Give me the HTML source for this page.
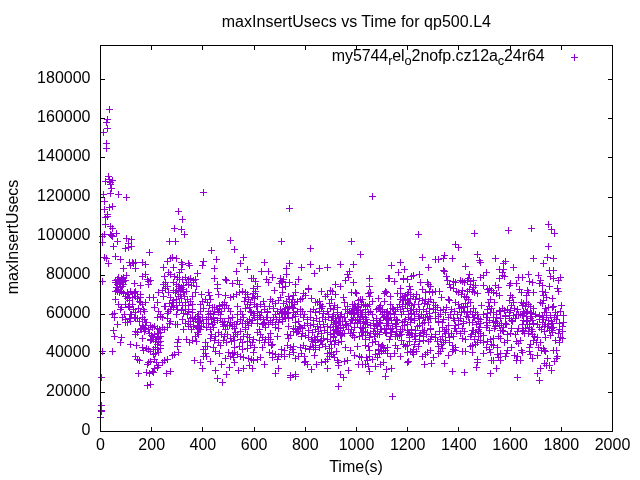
<!DOCTYPE html>
<html><head><meta charset="utf-8"><title>maxInsertUsecs vs Time for qp500.L4</title>
<style>
html,body{margin:0;padding:0;background:#fff;}
body{width:640px;height:480px;overflow:hidden;}
svg{display:block;will-change:transform;}
text{font-family:"Liberation Sans",sans-serif;font-size:16px;fill:#000;}
</style></head><body>
<svg width="640" height="480" viewBox="0 0 640 480">
<rect width="640" height="480" fill="#fff"/>
<path d="M100.50 431.5v-4.5M100.50 45.5v4.5M151.50 431.5v-4.5M151.50 45.5v4.5M202.50 431.5v-4.5M202.50 45.5v4.5M254.50 431.5v-4.5M254.50 45.5v4.5M305.50 431.5v-4.5M305.50 45.5v4.5M356.50 431.5v-4.5M356.50 45.5v4.5M407.50 431.5v-4.5M407.50 45.5v4.5M458.50 431.5v-4.5M458.50 45.5v4.5M510.50 431.5v-4.5M510.50 45.5v4.5M561.50 431.5v-4.5M561.50 45.5v4.5M612.50 431.5v-4.5M612.50 45.5v4.5M100.5 431.50h4.5M612.5 431.50h-4.5M100.5 392.50h4.5M612.5 392.50h-4.5M100.5 353.50h4.5M612.5 353.50h-4.5M100.5 314.50h4.5M612.5 314.50h-4.5M100.5 275.50h4.5M612.5 275.50h-4.5M100.5 236.50h4.5M612.5 236.50h-4.5M100.5 197.50h4.5M612.5 197.50h-4.5M100.5 157.50h4.5M612.5 157.50h-4.5M100.5 118.50h4.5M612.5 118.50h-4.5M100.5 79.50h4.5M612.5 79.50h-4.5" stroke="#000" stroke-width="1" fill="none"/>
<text x="100.5" y="450" text-anchor="middle">0</text><text x="151.7" y="450" text-anchor="middle">200</text><text x="202.9" y="450" text-anchor="middle">400</text><text x="254.1" y="450" text-anchor="middle">600</text><text x="305.3" y="450" text-anchor="middle">800</text><text x="356.5" y="450" text-anchor="middle">1000</text><text x="407.7" y="450" text-anchor="middle">1200</text><text x="458.9" y="450" text-anchor="middle">1400</text><text x="510.1" y="450" text-anchor="middle">1600</text><text x="561.3" y="450" text-anchor="middle">1800</text><text x="612.5" y="450" text-anchor="middle">2000</text>
<text x="90.5" y="435" text-anchor="end">0</text><text x="90.5" y="396" text-anchor="end">20000</text><text x="90.5" y="357" text-anchor="end">40000</text><text x="90.5" y="318" text-anchor="end">60000</text><text x="90.5" y="279" text-anchor="end">80000</text><text x="90.5" y="240" text-anchor="end">100000</text><text x="90.5" y="201" text-anchor="end">120000</text><text x="90.5" y="161" text-anchor="end">140000</text><text x="90.5" y="122" text-anchor="end">160000</text><text x="90.5" y="83" text-anchor="end">180000</text>
<text x="221.7" y="26.5" textLength="269.3" lengthAdjust="spacing">maxInsertUsecs vs Time for qp500.L4</text>
<text x="356" y="472" text-anchor="middle">Time(s)</text>
<text transform="translate(18,237) rotate(-90)" text-anchor="middle">maxInsertUsecs</text>
<text x="331.8" y="60.5" textLength="212.8" lengthAdjust="spacing">my5744<tspan dy="4.8" font-size="12.8">r</tspan><tspan dy="-4.8">el</tspan><tspan dy="4.8" font-size="12.8">o</tspan><tspan dy="-4.8">2nofp.cz12a</tspan><tspan dy="4.8" font-size="12.8">c</tspan><tspan dy="-4.8">24r64</tspan></text>
<path d="M571.0 57.5h7M574.5 54.0v7" stroke="#9400d3" stroke-width="1" fill="none"/>
<path d="M97.0 417.5h7M100.5 414.0v7M98.0 377.5h7M101.5 374.0v7M98.0 405.5h7M101.5 402.0v7M98.0 410.5h7M101.5 407.0v7M98.0 411.5h7M101.5 408.0v7M99.0 236.5h7M102.5 233.0v7M99.0 242.5h7M102.5 239.0v7M99.0 281.5h7M102.5 278.0v7M99.0 351.5h7M102.5 348.0v7M100.0 132.5h7M103.5 129.0v7M100.0 194.5h7M103.5 191.0v7M101.0 201.5h7M104.5 198.0v7M101.0 209.5h7M104.5 206.0v7M101.0 234.5h7M104.5 231.0v7M101.0 257.5h7M104.5 254.0v7M102.0 181.5h7M105.5 178.0v7M102.0 217.5h7M105.5 214.0v7M102.0 224.5h7M105.5 221.0v7M103.0 122.5h7M106.5 119.0v7M103.0 143.5h7M106.5 140.0v7M103.0 148.5h7M106.5 145.0v7M103.0 258.5h7M106.5 255.0v7M104.0 119.5h7M107.5 116.0v7M104.0 128.5h7M107.5 125.0v7M104.0 214.5h7M107.5 211.0v7M104.0 216.5h7M107.5 213.0v7M105.0 176.5h7M108.5 173.0v7M105.0 263.5h7M108.5 260.0v7M106.0 109.5h7M109.5 106.0v7M106.0 179.5h7M109.5 176.0v7M106.0 181.5h7M109.5 178.0v7M106.0 207.5h7M109.5 204.0v7M107.0 182.5h7M110.5 179.0v7M107.0 184.5h7M110.5 181.0v7M107.0 193.5h7M110.5 190.0v7M107.0 226.5h7M110.5 223.0v7M107.0 234.5h7M110.5 231.0v7M108.0 188.5h7M111.5 185.0v7M108.0 235.5h7M111.5 232.0v7M109.0 180.5h7M112.5 177.0v7M109.0 206.5h7M112.5 203.0v7M109.0 228.5h7M112.5 225.0v7M109.0 236.5h7M112.5 233.0v7M109.0 314.5h7M112.5 311.0v7M109.0 351.5h7M112.5 348.0v7M110.0 246.5h7M113.5 243.0v7M110.0 330.5h7M113.5 327.0v7M111.0 313.5h7M114.5 310.0v7M111.0 317.5h7M114.5 314.0v7M111.0 336.5h7M114.5 333.0v7M112.0 256.5h7M115.5 253.0v7M112.0 280.5h7M115.5 277.0v7M112.0 282.5h7M115.5 279.0v7M112.0 291.5h7M115.5 288.0v7M112.0 299.5h7M115.5 296.0v7M113.0 233.5h7M116.5 230.0v7M113.0 282.5h7M116.5 279.0v7M113.0 287.5h7M116.5 284.0v7M114.0 241.5h7M117.5 238.0v7M114.0 279.5h7M117.5 276.0v7M114.0 284.5h7M117.5 281.0v7M114.0 290.5h7M117.5 287.0v7M114.0 291.5h7M117.5 288.0v7M114.0 324.5h7M117.5 321.0v7M115.0 194.5h7M118.5 191.0v7M115.0 277.5h7M118.5 274.0v7M115.0 289.5h7M118.5 286.0v7M115.0 304.5h7M118.5 301.0v7M116.0 283.5h7M119.5 280.0v7M116.0 292.5h7M119.5 289.0v7M117.0 259.5h7M120.5 256.0v7M117.0 280.5h7M120.5 277.0v7M117.0 281.5h7M120.5 278.0v7M117.0 287.5h7M120.5 284.0v7M117.0 309.5h7M120.5 306.0v7M117.0 342.5h7M120.5 339.0v7M118.0 278.5h7M121.5 275.0v7M118.0 291.5h7M121.5 288.0v7M118.0 307.5h7M121.5 304.0v7M118.0 337.5h7M121.5 334.0v7M119.0 279.5h7M122.5 276.0v7M119.0 282.5h7M122.5 279.0v7M119.0 286.5h7M122.5 283.0v7M119.0 317.5h7M122.5 314.0v7M120.0 268.5h7M123.5 265.0v7M120.0 277.5h7M123.5 274.0v7M120.0 281.5h7M123.5 278.0v7M120.0 284.5h7M123.5 281.0v7M120.0 293.5h7M123.5 290.0v7M121.0 314.5h7M124.5 311.0v7M122.0 248.5h7M125.5 245.0v7M122.0 280.5h7M125.5 277.0v7M122.0 296.5h7M125.5 293.0v7M122.0 304.5h7M125.5 301.0v7M122.0 319.5h7M125.5 316.0v7M122.0 322.5h7M125.5 319.0v7M123.0 197.5h7M126.5 194.0v7M123.0 238.5h7M126.5 235.0v7M123.0 275.5h7M126.5 272.0v7M124.0 292.5h7M127.5 289.0v7M124.0 298.5h7M127.5 295.0v7M124.0 322.5h7M127.5 319.0v7M125.0 243.5h7M128.5 240.0v7M125.0 247.5h7M128.5 244.0v7M125.0 294.5h7M128.5 291.0v7M125.0 306.5h7M128.5 303.0v7M126.0 262.5h7M129.5 259.0v7M126.0 297.5h7M129.5 294.0v7M126.0 300.5h7M129.5 297.0v7M126.0 307.5h7M129.5 304.0v7M126.0 318.5h7M129.5 315.0v7M127.0 265.5h7M130.5 262.0v7M127.0 291.5h7M130.5 288.0v7M127.0 314.5h7M130.5 311.0v7M127.0 321.5h7M130.5 318.0v7M127.0 344.5h7M130.5 341.0v7M128.0 239.5h7M131.5 236.0v7M128.0 246.5h7M131.5 243.0v7M128.0 314.5h7M131.5 311.0v7M129.0 262.5h7M132.5 259.0v7M129.0 297.5h7M132.5 294.0v7M129.0 304.5h7M132.5 301.0v7M130.0 263.5h7M133.5 260.0v7M130.0 309.5h7M133.5 306.0v7M131.0 283.5h7M134.5 280.0v7M131.0 292.5h7M134.5 289.0v7M131.0 293.5h7M134.5 290.0v7M131.0 317.5h7M134.5 314.0v7M132.0 262.5h7M135.5 259.0v7M132.0 268.5h7M135.5 265.0v7M132.0 291.5h7M135.5 288.0v7M132.0 296.5h7M135.5 293.0v7M132.0 312.5h7M135.5 309.0v7M132.0 318.5h7M135.5 315.0v7M132.0 331.5h7M135.5 328.0v7M132.0 334.5h7M135.5 331.0v7M132.0 356.5h7M135.5 353.0v7M133.0 345.5h7M136.5 342.0v7M134.0 298.5h7M137.5 295.0v7M134.0 318.5h7M137.5 315.0v7M134.0 332.5h7M137.5 329.0v7M134.0 359.5h7M137.5 356.0v7M135.0 308.5h7M138.5 305.0v7M135.0 373.5h7M138.5 370.0v7M136.0 301.5h7M139.5 298.0v7M136.0 321.5h7M139.5 318.0v7M136.0 360.5h7M139.5 357.0v7M137.0 285.5h7M140.5 282.0v7M137.0 294.5h7M140.5 291.0v7M137.0 297.5h7M140.5 294.0v7M137.0 302.5h7M140.5 299.0v7M137.0 311.5h7M140.5 308.0v7M137.0 329.5h7M140.5 326.0v7M138.0 328.5h7M141.5 325.0v7M138.0 329.5h7M141.5 326.0v7M139.0 262.5h7M142.5 259.0v7M139.0 276.5h7M142.5 273.0v7M139.0 304.5h7M142.5 301.0v7M139.0 317.5h7M142.5 314.0v7M139.0 325.5h7M142.5 322.0v7M139.0 338.5h7M142.5 335.0v7M139.0 347.5h7M142.5 344.0v7M140.0 309.5h7M143.5 306.0v7M140.0 327.5h7M143.5 324.0v7M140.0 350.5h7M143.5 347.0v7M141.0 311.5h7M144.5 308.0v7M141.0 319.5h7M144.5 316.0v7M141.0 328.5h7M144.5 325.0v7M141.0 331.5h7M144.5 328.0v7M142.0 264.5h7M145.5 261.0v7M142.0 274.5h7M145.5 271.0v7M142.0 302.5h7M145.5 299.0v7M142.0 322.5h7M145.5 319.0v7M142.0 329.5h7M145.5 326.0v7M143.0 322.5h7M146.5 319.0v7M143.0 348.5h7M146.5 345.0v7M143.0 372.5h7M146.5 369.0v7M144.0 279.5h7M147.5 276.0v7M144.0 364.5h7M147.5 361.0v7M144.0 385.5h7M147.5 382.0v7M145.0 281.5h7M148.5 278.0v7M145.0 284.5h7M148.5 281.0v7M145.0 329.5h7M148.5 326.0v7M145.0 349.5h7M148.5 346.0v7M145.0 362.5h7M148.5 359.0v7M146.0 252.5h7M149.5 249.0v7M146.0 297.5h7M149.5 294.0v7M146.0 333.5h7M149.5 330.0v7M146.0 373.5h7M149.5 370.0v7M147.0 280.5h7M150.5 277.0v7M147.0 325.5h7M150.5 322.0v7M147.0 339.5h7M150.5 336.0v7M147.0 340.5h7M150.5 337.0v7M147.0 351.5h7M150.5 348.0v7M147.0 361.5h7M150.5 358.0v7M147.0 384.5h7M150.5 381.0v7M148.0 335.5h7M151.5 332.0v7M148.0 339.5h7M151.5 336.0v7M149.0 327.5h7M152.5 324.0v7M149.0 336.5h7M152.5 333.0v7M149.0 371.5h7M152.5 368.0v7M150.0 297.5h7M153.5 294.0v7M150.0 339.5h7M153.5 336.0v7M150.0 349.5h7M153.5 346.0v7M150.0 354.5h7M153.5 351.0v7M150.0 372.5h7M153.5 369.0v7M151.0 307.5h7M154.5 304.0v7M151.0 326.5h7M154.5 323.0v7M151.0 334.5h7M154.5 331.0v7M151.0 359.5h7M154.5 356.0v7M151.0 368.5h7M154.5 365.0v7M152.0 341.5h7M155.5 338.0v7M152.0 347.5h7M155.5 344.0v7M152.0 353.5h7M155.5 350.0v7M153.0 339.5h7M156.5 336.0v7M153.0 362.5h7M156.5 359.0v7M154.0 302.5h7M157.5 299.0v7M154.0 317.5h7M157.5 314.0v7M154.0 328.5h7M157.5 325.0v7M154.0 333.5h7M157.5 330.0v7M154.0 344.5h7M157.5 341.0v7M154.0 349.5h7M157.5 346.0v7M154.0 367.5h7M157.5 364.0v7M155.0 292.5h7M158.5 289.0v7M155.0 311.5h7M158.5 308.0v7M155.0 333.5h7M158.5 330.0v7M155.0 337.5h7M158.5 334.0v7M155.0 338.5h7M158.5 335.0v7M155.0 342.5h7M158.5 339.0v7M155.0 352.5h7M158.5 349.0v7M155.0 365.5h7M158.5 362.0v7M156.0 329.5h7M159.5 326.0v7M157.0 314.5h7M160.5 311.0v7M157.0 316.5h7M160.5 313.0v7M157.0 332.5h7M160.5 329.0v7M157.0 336.5h7M160.5 333.0v7M157.0 341.5h7M160.5 338.0v7M157.0 345.5h7M160.5 342.0v7M157.0 348.5h7M160.5 345.0v7M159.0 290.5h7M162.5 287.0v7M159.0 317.5h7M162.5 314.0v7M159.0 327.5h7M162.5 324.0v7M159.0 362.5h7M162.5 359.0v7M160.0 267.5h7M163.5 264.0v7M160.0 284.5h7M163.5 281.0v7M160.0 296.5h7M163.5 293.0v7M161.0 276.5h7M164.5 273.0v7M161.0 306.5h7M164.5 303.0v7M161.0 329.5h7M164.5 326.0v7M161.0 360.5h7M164.5 357.0v7M162.0 282.5h7M165.5 279.0v7M162.0 288.5h7M165.5 285.0v7M162.0 306.5h7M165.5 303.0v7M163.0 373.5h7M166.5 370.0v7M164.0 261.5h7M167.5 258.0v7M164.0 286.5h7M167.5 283.0v7M164.0 313.5h7M167.5 310.0v7M164.0 318.5h7M167.5 315.0v7M164.0 327.5h7M167.5 324.0v7M164.0 359.5h7M167.5 356.0v7M165.0 272.5h7M168.5 269.0v7M165.0 292.5h7M168.5 289.0v7M165.0 311.5h7M168.5 308.0v7M166.0 241.5h7M169.5 238.0v7M166.0 303.5h7M169.5 300.0v7M166.0 323.5h7M169.5 320.0v7M167.0 258.5h7M170.5 255.0v7M167.0 274.5h7M170.5 271.0v7M167.0 297.5h7M170.5 294.0v7M167.0 309.5h7M170.5 306.0v7M167.0 321.5h7M170.5 318.0v7M167.0 371.5h7M170.5 368.0v7M168.0 306.5h7M171.5 303.0v7M169.0 257.5h7M172.5 254.0v7M169.0 302.5h7M172.5 299.0v7M169.0 355.5h7M172.5 352.0v7M170.0 267.5h7M173.5 264.0v7M170.0 282.5h7M173.5 279.0v7M170.0 290.5h7M173.5 287.0v7M170.0 300.5h7M173.5 297.0v7M170.0 307.5h7M173.5 304.0v7M171.0 228.5h7M174.5 225.0v7M171.0 276.5h7M174.5 273.0v7M171.0 354.5h7M174.5 351.0v7M172.0 241.5h7M175.5 238.0v7M172.0 292.5h7M175.5 289.0v7M172.0 324.5h7M175.5 321.0v7M173.0 258.5h7M176.5 255.0v7M173.0 284.5h7M176.5 281.0v7M173.0 290.5h7M176.5 287.0v7M173.0 299.5h7M176.5 296.0v7M173.0 305.5h7M176.5 302.0v7M173.0 314.5h7M176.5 311.0v7M174.0 277.5h7M177.5 274.0v7M174.0 309.5h7M177.5 306.0v7M174.0 324.5h7M177.5 321.0v7M174.0 342.5h7M177.5 339.0v7M174.0 346.5h7M177.5 343.0v7M175.0 211.5h7M178.5 208.0v7M175.0 286.5h7M178.5 283.0v7M175.0 291.5h7M178.5 288.0v7M175.0 296.5h7M178.5 293.0v7M175.0 339.5h7M178.5 336.0v7M175.0 352.5h7M178.5 349.0v7M176.0 272.5h7M179.5 269.0v7M176.0 279.5h7M179.5 276.0v7M176.0 288.5h7M179.5 285.0v7M176.0 302.5h7M179.5 299.0v7M177.0 291.5h7M180.5 288.0v7M177.0 294.5h7M180.5 291.0v7M178.0 229.5h7M181.5 226.0v7M178.0 262.5h7M181.5 259.0v7M178.0 269.5h7M181.5 266.0v7M178.0 287.5h7M181.5 284.0v7M178.0 298.5h7M181.5 295.0v7M178.0 310.5h7M181.5 307.0v7M179.0 219.5h7M182.5 216.0v7M179.0 264.5h7M182.5 261.0v7M179.0 279.5h7M182.5 276.0v7M179.0 289.5h7M182.5 286.0v7M179.0 305.5h7M182.5 302.0v7M179.0 319.5h7M182.5 316.0v7M180.0 285.5h7M183.5 282.0v7M180.0 292.5h7M183.5 289.0v7M180.0 313.5h7M183.5 310.0v7M180.0 329.5h7M183.5 326.0v7M181.0 234.5h7M184.5 231.0v7M181.0 296.5h7M184.5 293.0v7M182.0 277.5h7M185.5 274.0v7M182.0 302.5h7M185.5 299.0v7M182.0 309.5h7M185.5 306.0v7M182.0 323.5h7M185.5 320.0v7M183.0 282.5h7M186.5 279.0v7M183.0 291.5h7M186.5 288.0v7M183.0 339.5h7M186.5 336.0v7M184.0 299.5h7M187.5 296.0v7M184.0 314.5h7M187.5 311.0v7M185.0 263.5h7M188.5 260.0v7M185.0 279.5h7M188.5 276.0v7M185.0 284.5h7M188.5 281.0v7M185.0 305.5h7M188.5 302.0v7M185.0 311.5h7M188.5 308.0v7M185.0 321.5h7M188.5 318.0v7M185.0 326.5h7M188.5 323.0v7M186.0 265.5h7M189.5 262.0v7M186.0 342.5h7M189.5 339.0v7M187.0 278.5h7M190.5 275.0v7M187.0 301.5h7M190.5 298.0v7M187.0 318.5h7M190.5 315.0v7M187.0 324.5h7M190.5 321.0v7M188.0 285.5h7M191.5 282.0v7M188.0 329.5h7M191.5 326.0v7M189.0 296.5h7M192.5 293.0v7M189.0 304.5h7M192.5 301.0v7M189.0 309.5h7M192.5 306.0v7M189.0 312.5h7M192.5 309.0v7M189.0 317.5h7M192.5 314.0v7M189.0 340.5h7M192.5 337.0v7M190.0 280.5h7M193.5 277.0v7M190.0 282.5h7M193.5 279.0v7M190.0 321.5h7M193.5 318.0v7M190.0 326.5h7M193.5 323.0v7M191.0 360.5h7M194.5 357.0v7M192.0 279.5h7M195.5 276.0v7M192.0 292.5h7M195.5 289.0v7M192.0 318.5h7M195.5 315.0v7M192.0 319.5h7M195.5 316.0v7M192.0 336.5h7M195.5 333.0v7M193.0 286.5h7M196.5 283.0v7M193.0 341.5h7M196.5 338.0v7M194.0 273.5h7M197.5 270.0v7M194.0 316.5h7M197.5 313.0v7M194.0 325.5h7M197.5 322.0v7M194.0 327.5h7M197.5 324.0v7M194.0 332.5h7M197.5 329.0v7M195.0 314.5h7M198.5 311.0v7M195.0 322.5h7M198.5 319.0v7M195.0 328.5h7M198.5 325.0v7M195.0 334.5h7M198.5 331.0v7M196.0 321.5h7M199.5 318.0v7M196.0 329.5h7M199.5 326.0v7M197.0 304.5h7M200.5 301.0v7M197.0 311.5h7M200.5 308.0v7M197.0 320.5h7M200.5 317.0v7M197.0 329.5h7M200.5 326.0v7M197.0 362.5h7M200.5 359.0v7M198.0 294.5h7M201.5 291.0v7M198.0 326.5h7M201.5 323.0v7M199.0 265.5h7M202.5 262.0v7M199.0 301.5h7M202.5 298.0v7M199.0 317.5h7M202.5 314.0v7M199.0 368.5h7M202.5 365.0v7M200.0 192.5h7M203.5 189.0v7M200.0 261.5h7M203.5 258.0v7M200.0 308.5h7M203.5 305.0v7M200.0 323.5h7M203.5 320.0v7M200.0 349.5h7M203.5 346.0v7M200.0 356.5h7M203.5 353.0v7M202.0 299.5h7M205.5 296.0v7M202.0 342.5h7M205.5 339.0v7M202.0 346.5h7M205.5 343.0v7M202.0 353.5h7M205.5 350.0v7M203.0 319.5h7M206.5 316.0v7M203.0 327.5h7M206.5 324.0v7M203.0 356.5h7M206.5 353.0v7M204.0 302.5h7M207.5 299.0v7M204.0 346.5h7M207.5 343.0v7M205.0 292.5h7M208.5 289.0v7M205.0 311.5h7M208.5 308.0v7M205.0 314.5h7M208.5 311.0v7M205.0 317.5h7M208.5 314.0v7M205.0 323.5h7M208.5 320.0v7M206.0 295.5h7M209.5 292.0v7M206.0 305.5h7M209.5 302.0v7M207.0 299.5h7M210.5 296.0v7M207.0 313.5h7M210.5 310.0v7M207.0 329.5h7M210.5 326.0v7M207.0 338.5h7M210.5 335.0v7M207.0 361.5h7M210.5 358.0v7M208.0 250.5h7M211.5 247.0v7M208.0 319.5h7M211.5 316.0v7M208.0 334.5h7M211.5 331.0v7M209.0 307.5h7M212.5 304.0v7M209.0 324.5h7M212.5 321.0v7M210.0 314.5h7M213.5 311.0v7M210.0 317.5h7M213.5 314.0v7M210.0 318.5h7M213.5 315.0v7M210.0 327.5h7M213.5 324.0v7M210.0 347.5h7M213.5 344.0v7M211.0 268.5h7M214.5 265.0v7M211.0 278.5h7M214.5 275.0v7M211.0 307.5h7M214.5 304.0v7M211.0 311.5h7M214.5 308.0v7M211.0 322.5h7M214.5 319.0v7M211.0 340.5h7M214.5 337.0v7M212.0 336.5h7M215.5 333.0v7M212.0 351.5h7M215.5 348.0v7M212.0 370.5h7M215.5 367.0v7M213.0 259.5h7M216.5 256.0v7M214.0 284.5h7M217.5 281.0v7M214.0 288.5h7M217.5 285.0v7M214.0 309.5h7M217.5 306.0v7M214.0 320.5h7M217.5 317.0v7M214.0 378.5h7M217.5 375.0v7M215.0 294.5h7M218.5 291.0v7M215.0 312.5h7M218.5 309.0v7M215.0 332.5h7M218.5 329.0v7M215.0 342.5h7M218.5 339.0v7M216.0 305.5h7M219.5 302.0v7M216.0 306.5h7M219.5 303.0v7M216.0 308.5h7M219.5 305.0v7M216.0 353.5h7M219.5 350.0v7M217.0 314.5h7M220.5 311.0v7M217.0 318.5h7M220.5 315.0v7M217.0 345.5h7M220.5 342.0v7M218.0 311.5h7M221.5 308.0v7M218.0 334.5h7M221.5 331.0v7M218.0 364.5h7M221.5 361.0v7M219.0 304.5h7M222.5 301.0v7M219.0 322.5h7M222.5 319.0v7M219.0 382.5h7M222.5 379.0v7M220.0 324.5h7M223.5 321.0v7M220.0 326.5h7M223.5 323.0v7M220.0 340.5h7M223.5 337.0v7M221.0 302.5h7M224.5 299.0v7M221.0 308.5h7M224.5 305.0v7M221.0 321.5h7M224.5 318.0v7M221.0 336.5h7M224.5 333.0v7M222.0 279.5h7M225.5 276.0v7M222.0 295.5h7M225.5 292.0v7M222.0 329.5h7M225.5 326.0v7M222.0 358.5h7M225.5 355.0v7M223.0 280.5h7M226.5 277.0v7M223.0 305.5h7M226.5 302.0v7M223.0 342.5h7M226.5 339.0v7M223.0 374.5h7M226.5 371.0v7M224.0 325.5h7M227.5 322.0v7M224.0 334.5h7M227.5 331.0v7M225.0 308.5h7M228.5 305.0v7M225.0 318.5h7M228.5 315.0v7M225.0 352.5h7M228.5 349.0v7M226.0 325.5h7M229.5 322.0v7M226.0 367.5h7M229.5 364.0v7M227.0 240.5h7M230.5 237.0v7M227.0 297.5h7M230.5 294.0v7M227.0 311.5h7M230.5 308.0v7M227.0 322.5h7M230.5 319.0v7M227.0 338.5h7M230.5 335.0v7M227.0 356.5h7M230.5 353.0v7M228.0 341.5h7M231.5 338.0v7M229.0 283.5h7M232.5 280.0v7M229.0 317.5h7M232.5 314.0v7M229.0 326.5h7M232.5 323.0v7M229.0 353.5h7M232.5 350.0v7M230.0 296.5h7M233.5 293.0v7M230.0 336.5h7M233.5 333.0v7M230.0 357.5h7M233.5 354.0v7M231.0 249.5h7M234.5 246.0v7M231.0 324.5h7M234.5 321.0v7M231.0 328.5h7M234.5 325.0v7M231.0 340.5h7M234.5 337.0v7M231.0 347.5h7M234.5 344.0v7M231.0 352.5h7M234.5 349.0v7M231.0 362.5h7M234.5 359.0v7M232.0 332.5h7M235.5 329.0v7M233.0 271.5h7M236.5 268.0v7M233.0 294.5h7M236.5 291.0v7M233.0 324.5h7M236.5 321.0v7M234.0 280.5h7M237.5 277.0v7M234.0 306.5h7M237.5 303.0v7M234.0 314.5h7M237.5 311.0v7M234.0 321.5h7M237.5 318.0v7M234.0 334.5h7M237.5 331.0v7M234.0 354.5h7M237.5 351.0v7M235.0 370.5h7M238.5 367.0v7M236.0 284.5h7M239.5 281.0v7M236.0 292.5h7M239.5 289.0v7M236.0 346.5h7M239.5 343.0v7M237.0 263.5h7M240.5 260.0v7M237.0 311.5h7M240.5 308.0v7M237.0 319.5h7M240.5 316.0v7M237.0 331.5h7M240.5 328.0v7M237.0 339.5h7M240.5 336.0v7M237.0 356.5h7M240.5 353.0v7M239.0 291.5h7M242.5 288.0v7M239.0 314.5h7M242.5 311.0v7M239.0 323.5h7M242.5 320.0v7M239.0 342.5h7M242.5 339.0v7M239.0 349.5h7M242.5 346.0v7M240.0 257.5h7M243.5 254.0v7M240.0 317.5h7M243.5 314.0v7M240.0 336.5h7M243.5 333.0v7M240.0 357.5h7M243.5 354.0v7M240.0 368.5h7M243.5 365.0v7M241.0 301.5h7M244.5 298.0v7M242.0 292.5h7M245.5 289.0v7M242.0 297.5h7M245.5 294.0v7M242.0 308.5h7M245.5 305.0v7M242.0 323.5h7M245.5 320.0v7M242.0 327.5h7M245.5 324.0v7M242.0 329.5h7M245.5 326.0v7M244.0 269.5h7M247.5 266.0v7M244.0 294.5h7M247.5 291.0v7M244.0 304.5h7M247.5 301.0v7M244.0 321.5h7M247.5 318.0v7M244.0 334.5h7M247.5 331.0v7M244.0 341.5h7M247.5 338.0v7M244.0 348.5h7M247.5 345.0v7M245.0 299.5h7M248.5 296.0v7M245.0 325.5h7M248.5 322.0v7M245.0 358.5h7M248.5 355.0v7M246.0 307.5h7M249.5 304.0v7M246.0 319.5h7M249.5 316.0v7M246.0 337.5h7M249.5 334.0v7M246.0 365.5h7M249.5 362.0v7M247.0 302.5h7M250.5 299.0v7M247.0 311.5h7M250.5 308.0v7M247.0 345.5h7M250.5 342.0v7M248.0 278.5h7M251.5 275.0v7M248.0 312.5h7M251.5 309.0v7M248.0 323.5h7M251.5 320.0v7M248.0 359.5h7M251.5 356.0v7M249.0 297.5h7M252.5 294.0v7M249.0 320.5h7M252.5 317.0v7M249.0 342.5h7M252.5 339.0v7M249.0 368.5h7M252.5 365.0v7M250.0 278.5h7M253.5 275.0v7M250.0 288.5h7M253.5 285.0v7M250.0 293.5h7M253.5 290.0v7M250.0 313.5h7M253.5 310.0v7M250.0 315.5h7M253.5 312.0v7M250.0 339.5h7M253.5 336.0v7M250.0 352.5h7M253.5 349.0v7M250.0 360.5h7M253.5 357.0v7M251.0 298.5h7M254.5 295.0v7M251.0 304.5h7M254.5 301.0v7M251.0 317.5h7M254.5 314.0v7M251.0 347.5h7M254.5 344.0v7M252.0 281.5h7M255.5 278.0v7M252.0 291.5h7M255.5 288.0v7M253.0 306.5h7M256.5 303.0v7M254.0 286.5h7M257.5 283.0v7M254.0 296.5h7M257.5 293.0v7M254.0 306.5h7M257.5 303.0v7M254.0 311.5h7M257.5 308.0v7M254.0 319.5h7M257.5 316.0v7M254.0 323.5h7M257.5 320.0v7M254.0 332.5h7M257.5 329.0v7M254.0 359.5h7M257.5 356.0v7M256.0 315.5h7M259.5 312.0v7M256.0 329.5h7M259.5 326.0v7M256.0 340.5h7M259.5 337.0v7M257.0 304.5h7M260.5 301.0v7M257.0 317.5h7M260.5 314.0v7M257.0 334.5h7M260.5 331.0v7M257.0 357.5h7M260.5 354.0v7M258.0 271.5h7M261.5 268.0v7M258.0 312.5h7M261.5 309.0v7M259.0 324.5h7M262.5 321.0v7M259.0 337.5h7M262.5 334.0v7M259.0 347.5h7M262.5 344.0v7M260.0 301.5h7M263.5 298.0v7M260.0 319.5h7M263.5 316.0v7M260.0 323.5h7M263.5 320.0v7M261.0 262.5h7M264.5 259.0v7M261.0 306.5h7M264.5 303.0v7M261.0 309.5h7M264.5 306.0v7M261.0 322.5h7M264.5 319.0v7M261.0 342.5h7M264.5 339.0v7M261.0 364.5h7M264.5 361.0v7M262.0 327.5h7M265.5 324.0v7M262.0 339.5h7M265.5 336.0v7M263.0 279.5h7M266.5 276.0v7M263.0 317.5h7M266.5 314.0v7M264.0 311.5h7M267.5 308.0v7M264.0 312.5h7M267.5 309.0v7M264.0 317.5h7M267.5 314.0v7M265.0 271.5h7M268.5 268.0v7M265.0 282.5h7M268.5 279.0v7M265.0 324.5h7M268.5 321.0v7M265.0 337.5h7M268.5 334.0v7M265.0 339.5h7M268.5 336.0v7M265.0 342.5h7M268.5 339.0v7M266.0 306.5h7M269.5 303.0v7M266.0 352.5h7M269.5 349.0v7M267.0 299.5h7M270.5 296.0v7M267.0 320.5h7M270.5 317.0v7M267.0 333.5h7M270.5 330.0v7M267.0 339.5h7M270.5 336.0v7M268.0 345.5h7M271.5 342.0v7M269.0 277.5h7M272.5 274.0v7M269.0 301.5h7M272.5 298.0v7M269.0 322.5h7M272.5 319.0v7M269.0 344.5h7M272.5 341.0v7M269.0 353.5h7M272.5 350.0v7M269.0 357.5h7M272.5 354.0v7M270.0 308.5h7M273.5 305.0v7M270.0 317.5h7M273.5 314.0v7M271.0 290.5h7M274.5 287.0v7M272.0 303.5h7M275.5 300.0v7M272.0 314.5h7M275.5 311.0v7M272.0 324.5h7M275.5 321.0v7M272.0 327.5h7M275.5 324.0v7M272.0 354.5h7M275.5 351.0v7M272.0 373.5h7M275.5 370.0v7M273.0 319.5h7M276.5 316.0v7M274.0 311.5h7M277.5 308.0v7M274.0 336.5h7M277.5 333.0v7M274.0 359.5h7M277.5 356.0v7M275.0 300.5h7M278.5 297.0v7M275.0 322.5h7M278.5 319.0v7M275.0 328.5h7M278.5 325.0v7M275.0 356.5h7M278.5 353.0v7M275.0 368.5h7M278.5 365.0v7M276.0 283.5h7M279.5 280.0v7M276.0 317.5h7M279.5 314.0v7M277.0 278.5h7M280.5 275.0v7M277.0 297.5h7M280.5 294.0v7M277.0 309.5h7M280.5 306.0v7M278.0 241.5h7M281.5 238.0v7M278.0 281.5h7M281.5 278.0v7M278.0 313.5h7M281.5 310.0v7M278.0 349.5h7M281.5 346.0v7M278.0 354.5h7M281.5 351.0v7M279.0 281.5h7M282.5 278.0v7M279.0 282.5h7M282.5 279.0v7M279.0 287.5h7M282.5 284.0v7M279.0 292.5h7M282.5 289.0v7M279.0 312.5h7M282.5 309.0v7M279.0 319.5h7M282.5 316.0v7M279.0 321.5h7M282.5 318.0v7M280.0 279.5h7M283.5 276.0v7M280.0 303.5h7M283.5 300.0v7M281.0 311.5h7M284.5 308.0v7M281.0 314.5h7M284.5 311.0v7M281.0 350.5h7M284.5 347.0v7M281.0 356.5h7M284.5 353.0v7M282.0 286.5h7M285.5 283.0v7M282.0 308.5h7M285.5 305.0v7M282.0 317.5h7M285.5 314.0v7M282.0 318.5h7M285.5 315.0v7M283.0 268.5h7M286.5 265.0v7M283.0 274.5h7M286.5 271.0v7M283.0 301.5h7M286.5 298.0v7M284.0 307.5h7M287.5 304.0v7M284.0 313.5h7M287.5 310.0v7M284.0 334.5h7M287.5 331.0v7M284.0 345.5h7M287.5 342.0v7M285.0 296.5h7M288.5 293.0v7M285.0 312.5h7M288.5 309.0v7M285.0 318.5h7M288.5 315.0v7M285.0 326.5h7M288.5 323.0v7M285.0 338.5h7M288.5 335.0v7M286.0 208.5h7M289.5 205.0v7M286.0 263.5h7M289.5 260.0v7M286.0 282.5h7M289.5 279.0v7M286.0 299.5h7M289.5 296.0v7M286.0 306.5h7M289.5 303.0v7M286.0 354.5h7M289.5 351.0v7M287.0 335.5h7M290.5 332.0v7M287.0 347.5h7M290.5 344.0v7M287.0 375.5h7M290.5 372.0v7M287.0 377.5h7M290.5 374.0v7M288.0 302.5h7M291.5 299.0v7M289.0 299.5h7M292.5 296.0v7M289.0 302.5h7M292.5 299.0v7M289.0 307.5h7M292.5 304.0v7M289.0 317.5h7M292.5 314.0v7M289.0 349.5h7M292.5 346.0v7M290.0 295.5h7M293.5 292.0v7M290.0 308.5h7M293.5 305.0v7M290.0 312.5h7M293.5 309.0v7M290.0 328.5h7M293.5 325.0v7M290.0 331.5h7M293.5 328.0v7M290.0 346.5h7M293.5 343.0v7M290.0 352.5h7M293.5 349.0v7M291.0 302.5h7M294.5 299.0v7M291.0 304.5h7M294.5 301.0v7M292.0 284.5h7M295.5 281.0v7M292.0 292.5h7M295.5 289.0v7M292.0 314.5h7M295.5 311.0v7M292.0 316.5h7M295.5 313.0v7M292.0 322.5h7M295.5 319.0v7M292.0 329.5h7M295.5 326.0v7M292.0 358.5h7M295.5 355.0v7M292.0 374.5h7M295.5 371.0v7M292.0 376.5h7M295.5 373.0v7M293.0 332.5h7M296.5 329.0v7M294.0 301.5h7M297.5 298.0v7M294.0 311.5h7M297.5 308.0v7M294.0 329.5h7M297.5 326.0v7M294.0 331.5h7M297.5 328.0v7M295.0 279.5h7M298.5 276.0v7M295.0 321.5h7M298.5 318.0v7M295.0 331.5h7M298.5 328.0v7M295.0 356.5h7M298.5 353.0v7M296.0 326.5h7M299.5 323.0v7M297.0 299.5h7M300.5 296.0v7M297.0 309.5h7M300.5 306.0v7M297.0 314.5h7M300.5 311.0v7M297.0 327.5h7M300.5 324.0v7M297.0 347.5h7M300.5 344.0v7M298.0 267.5h7M301.5 264.0v7M298.0 336.5h7M301.5 333.0v7M298.0 353.5h7M301.5 350.0v7M299.0 298.5h7M302.5 295.0v7M299.0 311.5h7M302.5 308.0v7M299.0 328.5h7M302.5 325.0v7M299.0 333.5h7M302.5 330.0v7M300.0 293.5h7M303.5 290.0v7M300.0 317.5h7M303.5 314.0v7M300.0 345.5h7M303.5 342.0v7M301.0 314.5h7M304.5 311.0v7M301.0 325.5h7M304.5 322.0v7M301.0 356.5h7M304.5 353.0v7M301.0 362.5h7M304.5 359.0v7M302.0 295.5h7M305.5 292.0v7M302.0 335.5h7M305.5 332.0v7M302.0 348.5h7M305.5 345.0v7M302.0 361.5h7M305.5 358.0v7M304.0 319.5h7M307.5 316.0v7M304.0 323.5h7M307.5 320.0v7M304.0 364.5h7M307.5 361.0v7M305.0 288.5h7M308.5 285.0v7M305.0 289.5h7M308.5 286.0v7M305.0 330.5h7M308.5 327.0v7M305.0 337.5h7M308.5 334.0v7M306.0 349.5h7M309.5 346.0v7M307.0 248.5h7M310.5 245.0v7M307.0 264.5h7M310.5 261.0v7M307.0 311.5h7M310.5 308.0v7M307.0 317.5h7M310.5 314.0v7M307.0 325.5h7M310.5 322.0v7M307.0 346.5h7M310.5 343.0v7M308.0 298.5h7M311.5 295.0v7M308.0 339.5h7M311.5 336.0v7M308.0 369.5h7M311.5 366.0v7M309.0 332.5h7M312.5 329.0v7M309.0 341.5h7M312.5 338.0v7M310.0 309.5h7M313.5 306.0v7M310.0 320.5h7M313.5 317.0v7M310.0 324.5h7M313.5 321.0v7M310.0 347.5h7M313.5 344.0v7M311.0 273.5h7M314.5 270.0v7M311.0 337.5h7M314.5 334.0v7M311.0 355.5h7M314.5 352.0v7M312.0 302.5h7M315.5 299.0v7M312.0 312.5h7M315.5 309.0v7M312.0 329.5h7M315.5 326.0v7M312.0 340.5h7M315.5 337.0v7M312.0 342.5h7M315.5 339.0v7M312.0 345.5h7M315.5 342.0v7M312.0 349.5h7M315.5 346.0v7M313.0 318.5h7M316.5 315.0v7M313.0 364.5h7M316.5 361.0v7M314.0 302.5h7M317.5 299.0v7M314.0 326.5h7M317.5 323.0v7M314.0 336.5h7M317.5 333.0v7M314.0 339.5h7M317.5 336.0v7M315.0 331.5h7M318.5 328.0v7M316.0 268.5h7M319.5 265.0v7M316.0 301.5h7M319.5 298.0v7M316.0 308.5h7M319.5 305.0v7M316.0 311.5h7M319.5 308.0v7M316.0 321.5h7M319.5 318.0v7M316.0 347.5h7M319.5 344.0v7M317.0 304.5h7M320.5 301.0v7M317.0 327.5h7M320.5 324.0v7M317.0 341.5h7M320.5 338.0v7M318.0 291.5h7M321.5 288.0v7M318.0 308.5h7M321.5 305.0v7M318.0 333.5h7M321.5 330.0v7M318.0 340.5h7M321.5 337.0v7M318.0 362.5h7M321.5 359.0v7M319.0 306.5h7M322.5 303.0v7M319.0 317.5h7M322.5 314.0v7M319.0 344.5h7M322.5 341.0v7M320.0 313.5h7M323.5 310.0v7M320.0 324.5h7M323.5 321.0v7M320.0 338.5h7M323.5 335.0v7M321.0 330.5h7M324.5 327.0v7M322.0 296.5h7M325.5 293.0v7M322.0 319.5h7M325.5 316.0v7M322.0 346.5h7M325.5 343.0v7M322.0 361.5h7M325.5 358.0v7M324.0 267.5h7M327.5 264.0v7M324.0 294.5h7M327.5 291.0v7M324.0 311.5h7M327.5 308.0v7M324.0 326.5h7M327.5 323.0v7M324.0 332.5h7M327.5 329.0v7M324.0 339.5h7M327.5 336.0v7M324.0 353.5h7M327.5 350.0v7M324.0 359.5h7M327.5 356.0v7M324.0 368.5h7M327.5 365.0v7M325.0 314.5h7M328.5 311.0v7M325.0 317.5h7M328.5 314.0v7M326.0 303.5h7M329.5 300.0v7M326.0 348.5h7M329.5 345.0v7M326.0 356.5h7M329.5 353.0v7M327.0 290.5h7M330.5 287.0v7M327.0 308.5h7M330.5 305.0v7M327.0 327.5h7M330.5 324.0v7M327.0 334.5h7M330.5 331.0v7M327.0 341.5h7M330.5 338.0v7M328.0 299.5h7M331.5 296.0v7M328.0 320.5h7M331.5 317.0v7M328.0 344.5h7M331.5 341.0v7M328.0 352.5h7M331.5 349.0v7M329.0 291.5h7M332.5 288.0v7M329.0 316.5h7M332.5 313.0v7M330.0 309.5h7M333.5 306.0v7M330.0 314.5h7M333.5 311.0v7M330.0 320.5h7M333.5 317.0v7M330.0 324.5h7M333.5 321.0v7M330.0 330.5h7M333.5 327.0v7M330.0 333.5h7M333.5 330.0v7M330.0 336.5h7M333.5 333.0v7M330.0 337.5h7M333.5 334.0v7M330.0 354.5h7M333.5 351.0v7M331.0 305.5h7M334.5 302.0v7M331.0 333.5h7M334.5 330.0v7M331.0 344.5h7M334.5 341.0v7M331.0 357.5h7M334.5 354.0v7M332.0 284.5h7M335.5 281.0v7M332.0 294.5h7M335.5 291.0v7M332.0 318.5h7M335.5 315.0v7M332.0 322.5h7M335.5 319.0v7M332.0 326.5h7M335.5 323.0v7M332.0 329.5h7M335.5 326.0v7M332.0 340.5h7M335.5 337.0v7M333.0 321.5h7M336.5 318.0v7M333.0 323.5h7M336.5 320.0v7M333.0 331.5h7M336.5 328.0v7M333.0 351.5h7M336.5 348.0v7M334.0 307.5h7M337.5 304.0v7M334.0 312.5h7M337.5 309.0v7M334.0 360.5h7M337.5 357.0v7M335.0 317.5h7M338.5 314.0v7M335.0 327.5h7M338.5 324.0v7M335.0 330.5h7M338.5 327.0v7M335.0 332.5h7M338.5 329.0v7M335.0 342.5h7M338.5 339.0v7M335.0 362.5h7M338.5 359.0v7M335.0 365.5h7M338.5 362.0v7M335.0 386.5h7M338.5 383.0v7M336.0 321.5h7M339.5 318.0v7M337.0 264.5h7M340.5 261.0v7M337.0 286.5h7M340.5 283.0v7M337.0 316.5h7M340.5 313.0v7M337.0 321.5h7M340.5 318.0v7M337.0 325.5h7M340.5 322.0v7M337.0 328.5h7M340.5 325.0v7M337.0 334.5h7M340.5 331.0v7M337.0 335.5h7M340.5 332.0v7M337.0 374.5h7M340.5 371.0v7M338.0 314.5h7M341.5 311.0v7M338.0 335.5h7M341.5 332.0v7M338.0 341.5h7M341.5 338.0v7M339.0 321.5h7M342.5 318.0v7M339.0 333.5h7M342.5 330.0v7M340.0 297.5h7M343.5 294.0v7M340.0 327.5h7M343.5 324.0v7M340.0 377.5h7M343.5 374.0v7M341.0 302.5h7M344.5 299.0v7M341.0 317.5h7M344.5 314.0v7M341.0 333.5h7M344.5 330.0v7M341.0 361.5h7M344.5 358.0v7M342.0 280.5h7M345.5 277.0v7M342.0 309.5h7M345.5 306.0v7M342.0 321.5h7M345.5 318.0v7M342.0 324.5h7M345.5 321.0v7M342.0 347.5h7M345.5 344.0v7M343.0 325.5h7M346.5 322.0v7M344.0 274.5h7M347.5 271.0v7M344.0 306.5h7M347.5 303.0v7M344.0 313.5h7M347.5 310.0v7M344.0 360.5h7M347.5 357.0v7M345.0 277.5h7M348.5 274.0v7M345.0 329.5h7M348.5 326.0v7M345.0 370.5h7M348.5 367.0v7M346.0 271.5h7M349.5 268.0v7M346.0 311.5h7M349.5 308.0v7M347.0 323.5h7M350.5 320.0v7M347.0 333.5h7M350.5 330.0v7M347.0 350.5h7M350.5 347.0v7M348.0 241.5h7M351.5 238.0v7M348.0 292.5h7M351.5 289.0v7M348.0 312.5h7M351.5 309.0v7M348.0 319.5h7M351.5 316.0v7M348.0 329.5h7M351.5 326.0v7M349.0 304.5h7M352.5 301.0v7M349.0 308.5h7M352.5 305.0v7M349.0 320.5h7M352.5 317.0v7M349.0 335.5h7M352.5 332.0v7M350.0 264.5h7M353.5 261.0v7M350.0 282.5h7M353.5 279.0v7M350.0 308.5h7M353.5 305.0v7M350.0 310.5h7M353.5 307.0v7M350.0 314.5h7M353.5 311.0v7M350.0 317.5h7M353.5 314.0v7M350.0 332.5h7M353.5 329.0v7M351.0 304.5h7M354.5 301.0v7M351.0 313.5h7M354.5 310.0v7M351.0 327.5h7M354.5 324.0v7M351.0 337.5h7M354.5 334.0v7M351.0 355.5h7M354.5 352.0v7M352.0 292.5h7M355.5 289.0v7M352.0 306.5h7M355.5 303.0v7M352.0 320.5h7M355.5 317.0v7M353.0 293.5h7M356.5 290.0v7M353.0 309.5h7M356.5 306.0v7M354.0 306.5h7M357.5 303.0v7M354.0 312.5h7M357.5 309.0v7M354.0 317.5h7M357.5 314.0v7M354.0 322.5h7M357.5 319.0v7M354.0 323.5h7M357.5 320.0v7M354.0 346.5h7M357.5 343.0v7M355.0 300.5h7M358.5 297.0v7M355.0 307.5h7M358.5 304.0v7M355.0 314.5h7M358.5 311.0v7M355.0 364.5h7M358.5 361.0v7M356.0 319.5h7M359.5 316.0v7M356.0 336.5h7M359.5 333.0v7M356.0 356.5h7M359.5 353.0v7M357.0 254.5h7M360.5 251.0v7M357.0 299.5h7M360.5 296.0v7M357.0 310.5h7M360.5 307.0v7M357.0 317.5h7M360.5 314.0v7M357.0 321.5h7M360.5 318.0v7M357.0 327.5h7M360.5 324.0v7M358.0 304.5h7M361.5 301.0v7M358.0 314.5h7M361.5 311.0v7M358.0 332.5h7M361.5 329.0v7M358.0 357.5h7M361.5 354.0v7M359.0 299.5h7M362.5 296.0v7M359.0 312.5h7M362.5 309.0v7M359.0 316.5h7M362.5 313.0v7M359.0 328.5h7M362.5 325.0v7M359.0 335.5h7M362.5 332.0v7M359.0 364.5h7M362.5 361.0v7M360.0 304.5h7M363.5 301.0v7M360.0 321.5h7M363.5 318.0v7M360.0 323.5h7M363.5 320.0v7M360.0 331.5h7M363.5 328.0v7M362.0 305.5h7M365.5 302.0v7M362.0 309.5h7M365.5 306.0v7M362.0 314.5h7M365.5 311.0v7M362.0 317.5h7M365.5 314.0v7M362.0 322.5h7M365.5 319.0v7M362.0 327.5h7M365.5 324.0v7M362.0 335.5h7M365.5 332.0v7M362.0 339.5h7M365.5 336.0v7M362.0 345.5h7M365.5 342.0v7M362.0 364.5h7M365.5 361.0v7M363.0 319.5h7M366.5 316.0v7M363.0 357.5h7M366.5 354.0v7M364.0 306.5h7M367.5 303.0v7M364.0 322.5h7M367.5 319.0v7M364.0 324.5h7M367.5 321.0v7M364.0 332.5h7M367.5 329.0v7M364.0 360.5h7M367.5 357.0v7M365.0 293.5h7M368.5 290.0v7M365.0 312.5h7M368.5 309.0v7M365.0 346.5h7M368.5 343.0v7M365.0 366.5h7M368.5 363.0v7M366.0 278.5h7M369.5 275.0v7M366.0 286.5h7M369.5 283.0v7M366.0 296.5h7M369.5 293.0v7M366.0 304.5h7M369.5 301.0v7M366.0 337.5h7M369.5 334.0v7M366.0 350.5h7M369.5 347.0v7M366.0 356.5h7M369.5 353.0v7M366.0 371.5h7M369.5 368.0v7M367.0 292.5h7M370.5 289.0v7M367.0 311.5h7M370.5 308.0v7M367.0 325.5h7M370.5 322.0v7M367.0 333.5h7M370.5 330.0v7M369.0 196.5h7M372.5 193.0v7M369.0 301.5h7M372.5 298.0v7M369.0 314.5h7M372.5 311.0v7M369.0 342.5h7M372.5 339.0v7M369.0 359.5h7M372.5 356.0v7M370.0 320.5h7M373.5 317.0v7M370.0 323.5h7M373.5 320.0v7M370.0 331.5h7M373.5 328.0v7M371.0 328.5h7M374.5 325.0v7M371.0 336.5h7M374.5 333.0v7M372.0 333.5h7M375.5 330.0v7M372.0 341.5h7M375.5 338.0v7M372.0 354.5h7M375.5 351.0v7M372.0 366.5h7M375.5 363.0v7M373.0 309.5h7M376.5 306.0v7M373.0 318.5h7M376.5 315.0v7M373.0 324.5h7M376.5 321.0v7M374.0 323.5h7M377.5 320.0v7M374.0 325.5h7M377.5 322.0v7M374.0 326.5h7M377.5 323.0v7M374.0 331.5h7M377.5 328.0v7M374.0 334.5h7M377.5 331.0v7M374.0 357.5h7M377.5 354.0v7M375.0 298.5h7M378.5 295.0v7M375.0 308.5h7M378.5 305.0v7M375.0 344.5h7M378.5 341.0v7M375.0 349.5h7M378.5 346.0v7M375.0 350.5h7M378.5 347.0v7M376.0 307.5h7M379.5 304.0v7M376.0 322.5h7M379.5 319.0v7M376.0 334.5h7M379.5 331.0v7M376.0 353.5h7M379.5 350.0v7M377.0 305.5h7M380.5 302.0v7M377.0 311.5h7M380.5 308.0v7M377.0 320.5h7M380.5 317.0v7M377.0 323.5h7M380.5 320.0v7M377.0 329.5h7M380.5 326.0v7M377.0 364.5h7M380.5 361.0v7M378.0 329.5h7M381.5 326.0v7M378.0 346.5h7M381.5 343.0v7M378.0 351.5h7M381.5 348.0v7M379.0 309.5h7M382.5 306.0v7M379.0 314.5h7M382.5 311.0v7M379.0 345.5h7M382.5 342.0v7M380.0 317.5h7M383.5 314.0v7M380.0 347.5h7M383.5 344.0v7M380.0 348.5h7M383.5 345.0v7M380.0 350.5h7M383.5 347.0v7M380.0 362.5h7M383.5 359.0v7M381.0 293.5h7M384.5 290.0v7M381.0 301.5h7M384.5 298.0v7M381.0 312.5h7M384.5 309.0v7M381.0 316.5h7M384.5 313.0v7M381.0 328.5h7M384.5 325.0v7M382.0 291.5h7M385.5 288.0v7M382.0 332.5h7M385.5 329.0v7M382.0 350.5h7M385.5 347.0v7M382.0 376.5h7M385.5 373.0v7M383.0 292.5h7M386.5 289.0v7M383.0 312.5h7M386.5 309.0v7M383.0 318.5h7M386.5 315.0v7M383.0 325.5h7M386.5 322.0v7M383.0 329.5h7M386.5 326.0v7M383.0 333.5h7M386.5 330.0v7M383.0 369.5h7M386.5 366.0v7M384.0 311.5h7M387.5 308.0v7M384.0 314.5h7M387.5 311.0v7M384.0 318.5h7M387.5 315.0v7M384.0 319.5h7M387.5 316.0v7M384.0 323.5h7M387.5 320.0v7M384.0 347.5h7M387.5 344.0v7M384.0 353.5h7M387.5 350.0v7M385.0 278.5h7M388.5 275.0v7M385.0 317.5h7M388.5 314.0v7M385.0 318.5h7M388.5 315.0v7M385.0 320.5h7M388.5 317.0v7M385.0 323.5h7M388.5 320.0v7M385.0 325.5h7M388.5 322.0v7M386.0 278.5h7M389.5 275.0v7M386.0 339.5h7M389.5 336.0v7M387.0 296.5h7M390.5 293.0v7M387.0 304.5h7M390.5 301.0v7M387.0 313.5h7M390.5 310.0v7M387.0 329.5h7M390.5 326.0v7M387.0 336.5h7M390.5 333.0v7M387.0 356.5h7M390.5 353.0v7M388.0 265.5h7M391.5 262.0v7M388.0 320.5h7M391.5 317.0v7M388.0 332.5h7M391.5 329.0v7M388.0 368.5h7M391.5 365.0v7M389.0 308.5h7M392.5 305.0v7M389.0 328.5h7M392.5 325.0v7M389.0 396.5h7M392.5 393.0v7M390.0 309.5h7M393.5 306.0v7M391.0 281.5h7M394.5 278.0v7M391.0 314.5h7M394.5 311.0v7M391.0 317.5h7M394.5 314.0v7M391.0 353.5h7M394.5 350.0v7M392.0 311.5h7M395.5 308.0v7M392.0 323.5h7M395.5 320.0v7M392.0 324.5h7M395.5 321.0v7M392.0 334.5h7M395.5 331.0v7M392.0 336.5h7M395.5 333.0v7M392.0 345.5h7M395.5 342.0v7M393.0 319.5h7M396.5 316.0v7M393.0 326.5h7M396.5 323.0v7M393.0 331.5h7M396.5 328.0v7M394.0 293.5h7M397.5 290.0v7M394.0 307.5h7M397.5 304.0v7M394.0 320.5h7M397.5 317.0v7M394.0 336.5h7M397.5 333.0v7M394.0 348.5h7M397.5 345.0v7M395.0 272.5h7M398.5 269.0v7M396.0 304.5h7M399.5 301.0v7M396.0 335.5h7M399.5 332.0v7M397.0 262.5h7M400.5 259.0v7M397.0 288.5h7M400.5 285.0v7M397.0 293.5h7M400.5 290.0v7M397.0 299.5h7M400.5 296.0v7M397.0 309.5h7M400.5 306.0v7M397.0 329.5h7M400.5 326.0v7M397.0 331.5h7M400.5 328.0v7M397.0 356.5h7M400.5 353.0v7M398.0 314.5h7M401.5 311.0v7M398.0 334.5h7M401.5 331.0v7M398.0 340.5h7M401.5 337.0v7M399.0 297.5h7M402.5 294.0v7M399.0 304.5h7M402.5 301.0v7M399.0 306.5h7M402.5 303.0v7M399.0 322.5h7M402.5 319.0v7M399.0 329.5h7M402.5 326.0v7M400.0 278.5h7M403.5 275.0v7M400.0 279.5h7M403.5 276.0v7M400.0 300.5h7M403.5 297.0v7M400.0 311.5h7M403.5 308.0v7M400.0 344.5h7M403.5 341.0v7M401.0 269.5h7M404.5 266.0v7M401.0 296.5h7M404.5 293.0v7M401.0 321.5h7M404.5 318.0v7M401.0 325.5h7M404.5 322.0v7M402.0 295.5h7M405.5 292.0v7M402.0 304.5h7M405.5 301.0v7M402.0 319.5h7M405.5 316.0v7M402.0 346.5h7M405.5 343.0v7M404.0 279.5h7M407.5 276.0v7M404.0 294.5h7M407.5 291.0v7M404.0 299.5h7M407.5 296.0v7M404.0 308.5h7M407.5 305.0v7M404.0 324.5h7M407.5 321.0v7M404.0 330.5h7M407.5 327.0v7M404.0 345.5h7M407.5 342.0v7M404.0 352.5h7M407.5 349.0v7M404.0 362.5h7M407.5 359.0v7M405.0 292.5h7M408.5 289.0v7M405.0 302.5h7M408.5 299.0v7M405.0 314.5h7M408.5 311.0v7M405.0 317.5h7M408.5 314.0v7M405.0 332.5h7M408.5 329.0v7M405.0 361.5h7M408.5 358.0v7M406.0 286.5h7M409.5 283.0v7M406.0 303.5h7M409.5 300.0v7M406.0 332.5h7M409.5 329.0v7M406.0 334.5h7M409.5 331.0v7M406.0 335.5h7M409.5 332.0v7M406.0 337.5h7M409.5 334.0v7M406.0 341.5h7M409.5 338.0v7M407.0 289.5h7M410.5 286.0v7M407.0 294.5h7M410.5 291.0v7M407.0 298.5h7M410.5 295.0v7M407.0 310.5h7M410.5 307.0v7M407.0 319.5h7M410.5 316.0v7M407.0 322.5h7M410.5 319.0v7M407.0 351.5h7M410.5 348.0v7M408.0 276.5h7M411.5 273.0v7M408.0 305.5h7M411.5 302.0v7M408.0 313.5h7M411.5 310.0v7M408.0 318.5h7M411.5 315.0v7M408.0 329.5h7M411.5 326.0v7M408.0 333.5h7M411.5 330.0v7M409.0 352.5h7M412.5 349.0v7M410.0 275.5h7M413.5 272.0v7M410.0 296.5h7M413.5 293.0v7M410.0 309.5h7M413.5 306.0v7M410.0 349.5h7M413.5 346.0v7M410.0 354.5h7M413.5 351.0v7M411.0 304.5h7M414.5 301.0v7M411.0 314.5h7M414.5 311.0v7M411.0 318.5h7M414.5 315.0v7M411.0 320.5h7M414.5 317.0v7M411.0 336.5h7M414.5 333.0v7M411.0 344.5h7M414.5 341.0v7M412.0 299.5h7M415.5 296.0v7M412.0 330.5h7M415.5 327.0v7M412.0 333.5h7M415.5 330.0v7M412.0 339.5h7M415.5 336.0v7M413.0 294.5h7M416.5 291.0v7M413.0 311.5h7M416.5 308.0v7M413.0 351.5h7M416.5 348.0v7M414.0 326.5h7M417.5 323.0v7M415.0 234.5h7M418.5 231.0v7M415.0 304.5h7M418.5 301.0v7M415.0 316.5h7M418.5 313.0v7M415.0 346.5h7M418.5 343.0v7M416.0 274.5h7M419.5 271.0v7M416.0 298.5h7M419.5 295.0v7M416.0 309.5h7M419.5 306.0v7M416.0 318.5h7M419.5 315.0v7M416.0 325.5h7M419.5 322.0v7M416.0 335.5h7M419.5 332.0v7M416.0 341.5h7M419.5 338.0v7M417.0 282.5h7M420.5 279.0v7M417.0 333.5h7M420.5 330.0v7M418.0 314.5h7M421.5 311.0v7M419.0 257.5h7M422.5 254.0v7M419.0 289.5h7M422.5 286.0v7M419.0 300.5h7M422.5 297.0v7M419.0 323.5h7M422.5 320.0v7M419.0 330.5h7M422.5 327.0v7M419.0 356.5h7M422.5 353.0v7M420.0 309.5h7M423.5 306.0v7M420.0 317.5h7M423.5 314.0v7M420.0 332.5h7M423.5 329.0v7M420.0 336.5h7M423.5 333.0v7M420.0 340.5h7M423.5 337.0v7M421.0 303.5h7M424.5 300.0v7M421.0 322.5h7M424.5 319.0v7M421.0 330.5h7M424.5 327.0v7M421.0 364.5h7M424.5 361.0v7M422.0 292.5h7M425.5 289.0v7M422.0 299.5h7M425.5 296.0v7M422.0 317.5h7M425.5 314.0v7M422.0 354.5h7M425.5 351.0v7M423.0 311.5h7M426.5 308.0v7M423.0 334.5h7M426.5 331.0v7M424.0 282.5h7M427.5 279.0v7M424.0 304.5h7M427.5 301.0v7M424.0 317.5h7M427.5 314.0v7M424.0 352.5h7M427.5 349.0v7M425.0 267.5h7M428.5 264.0v7M425.0 284.5h7M428.5 281.0v7M425.0 301.5h7M428.5 298.0v7M425.0 322.5h7M428.5 319.0v7M425.0 341.5h7M428.5 338.0v7M426.0 291.5h7M429.5 288.0v7M426.0 308.5h7M429.5 305.0v7M426.0 313.5h7M429.5 310.0v7M426.0 316.5h7M429.5 313.0v7M427.0 286.5h7M430.5 283.0v7M427.0 299.5h7M430.5 296.0v7M427.0 318.5h7M430.5 315.0v7M427.0 328.5h7M430.5 325.0v7M427.0 329.5h7M430.5 326.0v7M427.0 339.5h7M430.5 336.0v7M427.0 350.5h7M430.5 347.0v7M428.0 336.5h7M431.5 333.0v7M428.0 363.5h7M431.5 360.0v7M429.0 292.5h7M432.5 289.0v7M430.0 302.5h7M433.5 299.0v7M430.0 309.5h7M433.5 306.0v7M430.0 357.5h7M433.5 354.0v7M432.0 259.5h7M435.5 256.0v7M432.0 291.5h7M435.5 288.0v7M432.0 305.5h7M435.5 302.0v7M432.0 312.5h7M435.5 309.0v7M432.0 318.5h7M435.5 315.0v7M432.0 334.5h7M435.5 331.0v7M432.0 337.5h7M435.5 334.0v7M434.0 307.5h7M437.5 304.0v7M434.0 341.5h7M437.5 338.0v7M435.0 259.5h7M438.5 256.0v7M435.0 316.5h7M438.5 313.0v7M435.0 321.5h7M438.5 318.0v7M435.0 322.5h7M438.5 319.0v7M435.0 346.5h7M438.5 343.0v7M435.0 353.5h7M438.5 350.0v7M436.0 291.5h7M439.5 288.0v7M436.0 331.5h7M439.5 328.0v7M437.0 310.5h7M440.5 307.0v7M437.0 314.5h7M440.5 311.0v7M437.0 339.5h7M440.5 336.0v7M437.0 351.5h7M440.5 348.0v7M438.0 297.5h7M441.5 294.0v7M438.0 344.5h7M441.5 341.0v7M439.0 322.5h7M442.5 319.0v7M439.0 327.5h7M442.5 324.0v7M439.0 336.5h7M442.5 333.0v7M439.0 348.5h7M442.5 345.0v7M440.0 258.5h7M443.5 255.0v7M440.0 270.5h7M443.5 267.0v7M440.0 309.5h7M443.5 306.0v7M440.0 319.5h7M443.5 316.0v7M440.0 342.5h7M443.5 339.0v7M441.0 255.5h7M444.5 252.0v7M441.0 271.5h7M444.5 268.0v7M441.0 331.5h7M444.5 328.0v7M441.0 363.5h7M444.5 360.0v7M442.0 312.5h7M445.5 309.0v7M442.0 333.5h7M445.5 330.0v7M442.0 340.5h7M445.5 337.0v7M443.0 276.5h7M446.5 273.0v7M443.0 307.5h7M446.5 304.0v7M443.0 329.5h7M446.5 326.0v7M444.0 280.5h7M447.5 277.0v7M445.0 299.5h7M448.5 296.0v7M445.0 317.5h7M448.5 314.0v7M445.0 325.5h7M448.5 322.0v7M445.0 333.5h7M448.5 330.0v7M445.0 355.5h7M448.5 352.0v7M446.0 284.5h7M449.5 281.0v7M446.0 300.5h7M449.5 297.0v7M446.0 337.5h7M449.5 334.0v7M446.0 342.5h7M449.5 339.0v7M447.0 287.5h7M450.5 284.0v7M447.0 314.5h7M450.5 311.0v7M448.0 309.5h7M451.5 306.0v7M448.0 333.5h7M451.5 330.0v7M449.0 258.5h7M452.5 255.0v7M449.0 345.5h7M452.5 342.0v7M449.0 351.5h7M452.5 348.0v7M449.0 371.5h7M452.5 368.0v7M450.0 281.5h7M453.5 278.0v7M450.0 288.5h7M453.5 285.0v7M450.0 318.5h7M453.5 315.0v7M450.0 336.5h7M453.5 333.0v7M450.0 349.5h7M453.5 346.0v7M451.0 311.5h7M454.5 308.0v7M451.0 320.5h7M454.5 317.0v7M451.0 328.5h7M454.5 325.0v7M452.0 244.5h7M455.5 241.0v7M452.0 282.5h7M455.5 279.0v7M452.0 302.5h7M455.5 299.0v7M452.0 325.5h7M455.5 322.0v7M452.0 328.5h7M455.5 325.0v7M452.0 347.5h7M455.5 344.0v7M452.0 350.5h7M455.5 347.0v7M453.0 291.5h7M456.5 288.0v7M453.0 331.5h7M456.5 328.0v7M454.0 314.5h7M457.5 311.0v7M455.0 247.5h7M458.5 244.0v7M455.0 292.5h7M458.5 289.0v7M455.0 304.5h7M458.5 301.0v7M455.0 320.5h7M458.5 317.0v7M455.0 324.5h7M458.5 321.0v7M456.0 308.5h7M459.5 305.0v7M457.0 280.5h7M460.5 277.0v7M457.0 318.5h7M460.5 315.0v7M457.0 333.5h7M460.5 330.0v7M458.0 294.5h7M461.5 291.0v7M458.0 306.5h7M461.5 303.0v7M458.0 312.5h7M461.5 309.0v7M459.0 281.5h7M462.5 278.0v7M459.0 290.5h7M462.5 287.0v7M459.0 328.5h7M462.5 325.0v7M459.0 338.5h7M462.5 335.0v7M459.0 351.5h7M462.5 348.0v7M460.0 307.5h7M463.5 304.0v7M460.0 321.5h7M463.5 318.0v7M460.0 323.5h7M463.5 320.0v7M461.0 282.5h7M464.5 279.0v7M461.0 296.5h7M464.5 293.0v7M461.0 311.5h7M464.5 308.0v7M461.0 331.5h7M464.5 328.0v7M461.0 372.5h7M464.5 369.0v7M462.0 266.5h7M465.5 263.0v7M462.0 303.5h7M465.5 300.0v7M462.0 339.5h7M465.5 336.0v7M462.0 351.5h7M465.5 348.0v7M463.0 297.5h7M466.5 294.0v7M463.0 316.5h7M466.5 313.0v7M464.0 280.5h7M467.5 277.0v7M464.0 291.5h7M467.5 288.0v7M464.0 306.5h7M467.5 303.0v7M464.0 312.5h7M467.5 309.0v7M465.0 278.5h7M468.5 275.0v7M465.0 299.5h7M468.5 296.0v7M465.0 317.5h7M468.5 314.0v7M466.0 274.5h7M469.5 271.0v7M466.0 289.5h7M469.5 286.0v7M466.0 322.5h7M469.5 319.0v7M467.0 281.5h7M470.5 278.0v7M467.0 284.5h7M470.5 281.0v7M467.0 302.5h7M470.5 299.0v7M467.0 311.5h7M470.5 308.0v7M467.0 336.5h7M470.5 333.0v7M467.0 346.5h7M470.5 343.0v7M468.0 334.5h7M471.5 331.0v7M469.0 291.5h7M472.5 288.0v7M469.0 314.5h7M472.5 311.0v7M469.0 322.5h7M472.5 319.0v7M469.0 330.5h7M472.5 327.0v7M469.0 345.5h7M472.5 342.0v7M469.0 352.5h7M472.5 349.0v7M470.0 280.5h7M473.5 277.0v7M470.0 287.5h7M473.5 284.0v7M470.0 308.5h7M473.5 305.0v7M470.0 317.5h7M473.5 314.0v7M470.0 330.5h7M473.5 327.0v7M471.0 233.5h7M474.5 230.0v7M471.0 292.5h7M474.5 289.0v7M471.0 317.5h7M474.5 314.0v7M471.0 339.5h7M474.5 336.0v7M472.0 285.5h7M475.5 282.0v7M472.0 312.5h7M475.5 309.0v7M472.0 332.5h7M475.5 329.0v7M472.0 344.5h7M475.5 341.0v7M473.0 324.5h7M476.5 321.0v7M473.0 367.5h7M476.5 364.0v7M474.0 254.5h7M477.5 251.0v7M474.0 293.5h7M477.5 290.0v7M474.0 314.5h7M477.5 311.0v7M474.0 342.5h7M477.5 339.0v7M474.0 359.5h7M477.5 356.0v7M474.0 362.5h7M477.5 359.0v7M475.0 318.5h7M478.5 315.0v7M475.0 321.5h7M478.5 318.0v7M475.0 329.5h7M478.5 326.0v7M475.0 331.5h7M478.5 328.0v7M475.0 336.5h7M478.5 333.0v7M476.0 260.5h7M479.5 257.0v7M476.0 327.5h7M479.5 324.0v7M477.0 262.5h7M480.5 259.0v7M477.0 277.5h7M480.5 274.0v7M477.0 319.5h7M480.5 316.0v7M477.0 323.5h7M480.5 320.0v7M477.0 333.5h7M480.5 330.0v7M477.0 340.5h7M480.5 337.0v7M478.0 305.5h7M481.5 302.0v7M480.0 275.5h7M483.5 272.0v7M480.0 285.5h7M483.5 282.0v7M480.0 314.5h7M483.5 311.0v7M480.0 335.5h7M483.5 332.0v7M480.0 342.5h7M483.5 339.0v7M480.0 353.5h7M483.5 350.0v7M483.0 272.5h7M486.5 269.0v7M483.0 317.5h7M486.5 314.0v7M483.0 322.5h7M486.5 319.0v7M483.0 327.5h7M486.5 324.0v7M483.0 347.5h7M486.5 344.0v7M484.0 289.5h7M487.5 286.0v7M484.0 309.5h7M487.5 306.0v7M484.0 313.5h7M487.5 310.0v7M484.0 317.5h7M487.5 314.0v7M484.0 325.5h7M487.5 322.0v7M484.0 341.5h7M487.5 338.0v7M485.0 292.5h7M488.5 289.0v7M485.0 302.5h7M488.5 299.0v7M486.0 288.5h7M489.5 285.0v7M486.0 306.5h7M489.5 303.0v7M486.0 320.5h7M489.5 317.0v7M486.0 330.5h7M489.5 327.0v7M486.0 349.5h7M489.5 346.0v7M487.0 299.5h7M490.5 296.0v7M487.0 312.5h7M490.5 309.0v7M487.0 339.5h7M490.5 336.0v7M487.0 352.5h7M490.5 349.0v7M487.0 373.5h7M490.5 370.0v7M488.0 290.5h7M491.5 287.0v7M488.0 308.5h7M491.5 305.0v7M488.0 344.5h7M491.5 341.0v7M488.0 360.5h7M491.5 357.0v7M490.0 292.5h7M493.5 289.0v7M490.0 312.5h7M493.5 309.0v7M490.0 317.5h7M493.5 314.0v7M490.0 322.5h7M493.5 319.0v7M490.0 338.5h7M493.5 335.0v7M490.0 345.5h7M493.5 342.0v7M490.0 360.5h7M493.5 357.0v7M491.0 302.5h7M494.5 299.0v7M491.0 328.5h7M494.5 325.0v7M492.0 258.5h7M495.5 255.0v7M492.0 285.5h7M495.5 282.0v7M492.0 321.5h7M495.5 318.0v7M492.0 326.5h7M495.5 323.0v7M493.0 293.5h7M496.5 290.0v7M493.0 314.5h7M496.5 311.0v7M493.0 317.5h7M496.5 314.0v7M493.0 368.5h7M496.5 365.0v7M494.0 323.5h7M497.5 320.0v7M494.0 347.5h7M497.5 344.0v7M494.0 354.5h7M497.5 351.0v7M495.0 287.5h7M498.5 284.0v7M495.0 336.5h7M498.5 333.0v7M495.0 357.5h7M498.5 354.0v7M496.0 269.5h7M499.5 266.0v7M496.0 278.5h7M499.5 275.0v7M496.0 295.5h7M499.5 292.0v7M496.0 310.5h7M499.5 307.0v7M496.0 325.5h7M499.5 322.0v7M497.0 311.5h7M500.5 308.0v7M497.0 318.5h7M500.5 315.0v7M497.0 330.5h7M500.5 327.0v7M497.0 338.5h7M500.5 335.0v7M497.0 353.5h7M500.5 350.0v7M497.0 360.5h7M500.5 357.0v7M498.0 323.5h7M501.5 320.0v7M499.0 272.5h7M502.5 269.0v7M499.0 275.5h7M502.5 272.0v7M499.0 308.5h7M502.5 305.0v7M499.0 330.5h7M502.5 327.0v7M500.0 263.5h7M503.5 260.0v7M500.0 269.5h7M503.5 266.0v7M500.0 327.5h7M503.5 324.0v7M500.0 331.5h7M503.5 328.0v7M501.0 276.5h7M504.5 273.0v7M501.0 310.5h7M504.5 307.0v7M501.0 342.5h7M504.5 339.0v7M502.0 261.5h7M505.5 258.0v7M502.0 315.5h7M505.5 312.0v7M502.0 316.5h7M505.5 313.0v7M502.0 323.5h7M505.5 320.0v7M502.0 356.5h7M505.5 353.0v7M503.0 324.5h7M506.5 321.0v7M503.0 353.5h7M506.5 350.0v7M504.0 309.5h7M507.5 306.0v7M504.0 334.5h7M507.5 331.0v7M504.0 340.5h7M507.5 337.0v7M504.0 350.5h7M507.5 347.0v7M505.0 230.5h7M508.5 227.0v7M506.0 285.5h7M509.5 282.0v7M506.0 300.5h7M509.5 297.0v7M506.0 312.5h7M509.5 309.0v7M506.0 318.5h7M509.5 315.0v7M507.0 283.5h7M510.5 280.0v7M507.0 295.5h7M510.5 292.0v7M507.0 310.5h7M510.5 307.0v7M507.0 333.5h7M510.5 330.0v7M508.0 305.5h7M511.5 302.0v7M508.0 320.5h7M511.5 317.0v7M508.0 328.5h7M511.5 325.0v7M508.0 347.5h7M511.5 344.0v7M509.0 297.5h7M512.5 294.0v7M509.0 321.5h7M512.5 318.0v7M510.0 267.5h7M513.5 264.0v7M510.0 302.5h7M513.5 299.0v7M510.0 315.5h7M513.5 312.0v7M511.0 308.5h7M514.5 305.0v7M511.0 355.5h7M514.5 352.0v7M512.0 318.5h7M515.5 315.0v7M512.0 334.5h7M515.5 331.0v7M513.0 283.5h7M516.5 280.0v7M513.0 314.5h7M516.5 311.0v7M513.0 341.5h7M516.5 338.0v7M513.0 360.5h7M516.5 357.0v7M514.0 309.5h7M517.5 306.0v7M514.0 331.5h7M517.5 328.0v7M514.0 356.5h7M517.5 353.0v7M514.0 377.5h7M517.5 374.0v7M515.0 277.5h7M518.5 274.0v7M515.0 314.5h7M518.5 311.0v7M515.0 328.5h7M518.5 325.0v7M515.0 343.5h7M518.5 340.0v7M516.0 289.5h7M519.5 286.0v7M517.0 314.5h7M520.5 311.0v7M517.0 340.5h7M520.5 337.0v7M517.0 360.5h7M520.5 357.0v7M518.0 292.5h7M521.5 289.0v7M518.0 302.5h7M521.5 299.0v7M518.0 350.5h7M521.5 347.0v7M519.0 277.5h7M522.5 274.0v7M519.0 305.5h7M522.5 302.0v7M519.0 315.5h7M522.5 312.0v7M519.0 324.5h7M522.5 321.0v7M519.0 331.5h7M522.5 328.0v7M519.0 352.5h7M522.5 349.0v7M520.0 303.5h7M523.5 300.0v7M520.0 311.5h7M523.5 308.0v7M520.0 320.5h7M523.5 317.0v7M520.0 330.5h7M523.5 327.0v7M521.0 313.5h7M524.5 310.0v7M521.0 333.5h7M524.5 330.0v7M522.0 306.5h7M525.5 303.0v7M522.0 328.5h7M525.5 325.0v7M523.0 295.5h7M526.5 292.0v7M523.0 302.5h7M526.5 299.0v7M523.0 312.5h7M526.5 309.0v7M523.0 316.5h7M526.5 313.0v7M523.0 321.5h7M526.5 318.0v7M524.0 290.5h7M527.5 287.0v7M524.0 311.5h7M527.5 308.0v7M524.0 320.5h7M527.5 317.0v7M524.0 324.5h7M527.5 321.0v7M525.0 274.5h7M528.5 271.0v7M525.0 292.5h7M528.5 289.0v7M525.0 304.5h7M528.5 301.0v7M525.0 331.5h7M528.5 328.0v7M525.0 333.5h7M528.5 330.0v7M526.0 281.5h7M529.5 278.0v7M526.0 324.5h7M529.5 321.0v7M526.0 327.5h7M529.5 324.0v7M526.0 347.5h7M529.5 344.0v7M526.0 351.5h7M529.5 348.0v7M527.0 306.5h7M530.5 303.0v7M527.0 312.5h7M530.5 309.0v7M527.0 318.5h7M530.5 315.0v7M527.0 344.5h7M530.5 341.0v7M527.0 354.5h7M530.5 351.0v7M528.0 228.5h7M531.5 225.0v7M528.0 313.5h7M531.5 310.0v7M528.0 316.5h7M531.5 313.0v7M528.0 329.5h7M531.5 326.0v7M529.0 282.5h7M532.5 279.0v7M529.0 320.5h7M532.5 317.0v7M529.0 331.5h7M532.5 328.0v7M529.0 334.5h7M532.5 331.0v7M529.0 358.5h7M532.5 355.0v7M530.0 258.5h7M533.5 255.0v7M530.0 292.5h7M533.5 289.0v7M530.0 308.5h7M533.5 305.0v7M530.0 323.5h7M533.5 320.0v7M530.0 340.5h7M533.5 337.0v7M531.0 336.5h7M534.5 333.0v7M532.0 314.5h7M535.5 311.0v7M533.0 342.5h7M536.5 339.0v7M534.0 324.5h7M537.5 321.0v7M534.0 337.5h7M537.5 334.0v7M534.0 355.5h7M537.5 352.0v7M534.0 373.5h7M537.5 370.0v7M535.0 275.5h7M538.5 272.0v7M535.0 347.5h7M538.5 344.0v7M536.0 283.5h7M539.5 280.0v7M536.0 315.5h7M539.5 312.0v7M536.0 316.5h7M539.5 313.0v7M536.0 319.5h7M539.5 316.0v7M536.0 327.5h7M539.5 324.0v7M536.0 380.5h7M539.5 377.0v7M537.0 280.5h7M540.5 277.0v7M537.0 302.5h7M540.5 299.0v7M537.0 342.5h7M540.5 339.0v7M537.0 368.5h7M540.5 365.0v7M538.0 329.5h7M541.5 326.0v7M538.0 350.5h7M541.5 347.0v7M539.0 285.5h7M542.5 282.0v7M539.0 291.5h7M542.5 288.0v7M539.0 303.5h7M542.5 300.0v7M539.0 315.5h7M542.5 312.0v7M539.0 317.5h7M542.5 314.0v7M539.0 322.5h7M542.5 319.0v7M540.0 263.5h7M543.5 260.0v7M540.0 295.5h7M543.5 292.0v7M540.0 300.5h7M543.5 297.0v7M540.0 319.5h7M543.5 316.0v7M540.0 348.5h7M543.5 345.0v7M541.0 312.5h7M544.5 309.0v7M541.0 326.5h7M544.5 323.0v7M541.0 331.5h7M544.5 328.0v7M541.0 350.5h7M544.5 347.0v7M541.0 363.5h7M544.5 360.0v7M542.0 292.5h7M545.5 289.0v7M542.0 308.5h7M545.5 305.0v7M542.0 324.5h7M545.5 321.0v7M542.0 337.5h7M545.5 334.0v7M542.0 351.5h7M545.5 348.0v7M543.0 297.5h7M546.5 294.0v7M543.0 312.5h7M546.5 309.0v7M543.0 317.5h7M546.5 314.0v7M543.0 365.5h7M546.5 362.0v7M544.0 257.5h7M547.5 254.0v7M544.0 326.5h7M547.5 323.0v7M544.0 358.5h7M547.5 355.0v7M545.0 224.5h7M548.5 221.0v7M545.0 246.5h7M548.5 243.0v7M545.0 307.5h7M548.5 304.0v7M545.0 320.5h7M548.5 317.0v7M545.0 324.5h7M548.5 321.0v7M546.0 270.5h7M549.5 267.0v7M546.0 286.5h7M549.5 283.0v7M546.0 330.5h7M549.5 327.0v7M546.0 365.5h7M549.5 362.0v7M547.0 276.5h7M550.5 273.0v7M547.0 315.5h7M550.5 312.0v7M547.0 335.5h7M550.5 332.0v7M548.0 229.5h7M551.5 226.0v7M548.0 321.5h7M551.5 318.0v7M548.0 328.5h7M551.5 325.0v7M548.0 370.5h7M551.5 367.0v7M549.0 298.5h7M552.5 295.0v7M549.0 307.5h7M552.5 304.0v7M549.0 323.5h7M552.5 320.0v7M549.0 330.5h7M552.5 327.0v7M549.0 332.5h7M552.5 329.0v7M550.0 258.5h7M553.5 255.0v7M550.0 270.5h7M553.5 267.0v7M550.0 278.5h7M553.5 275.0v7M550.0 306.5h7M553.5 303.0v7M550.0 327.5h7M553.5 324.0v7M550.0 350.5h7M553.5 347.0v7M551.0 233.5h7M554.5 230.0v7M551.0 317.5h7M554.5 314.0v7M551.0 361.5h7M554.5 358.0v7M552.0 312.5h7M555.5 309.0v7M552.0 340.5h7M555.5 337.0v7M553.0 319.5h7M556.5 316.0v7M553.0 350.5h7M556.5 347.0v7M553.0 358.5h7M556.5 355.0v7M554.0 288.5h7M557.5 285.0v7M554.0 315.5h7M557.5 312.0v7M554.0 356.5h7M557.5 353.0v7M555.0 280.5h7M558.5 277.0v7M555.0 291.5h7M558.5 288.0v7M555.0 333.5h7M558.5 330.0v7M556.0 323.5h7M559.5 320.0v7M556.0 329.5h7M559.5 326.0v7M556.0 342.5h7M559.5 339.0v7M557.0 277.5h7M560.5 274.0v7M557.0 311.5h7M560.5 308.0v7M557.0 337.5h7M560.5 334.0v7M558.0 305.5h7M561.5 302.0v7M559.0 326.5h7M562.5 323.0v7M559.0 331.5h7M562.5 328.0v7M559.0 338.5h7M562.5 335.0v7M560.0 315.5h7M563.5 312.0v7M560.0 322.5h7M563.5 319.0v7" stroke="#9400d3" stroke-width="1" fill="none"/>
<rect x="100.5" y="45.5" width="512.0" height="386.0" fill="none" stroke="#000" stroke-width="1"/>
</svg>
</body></html>
